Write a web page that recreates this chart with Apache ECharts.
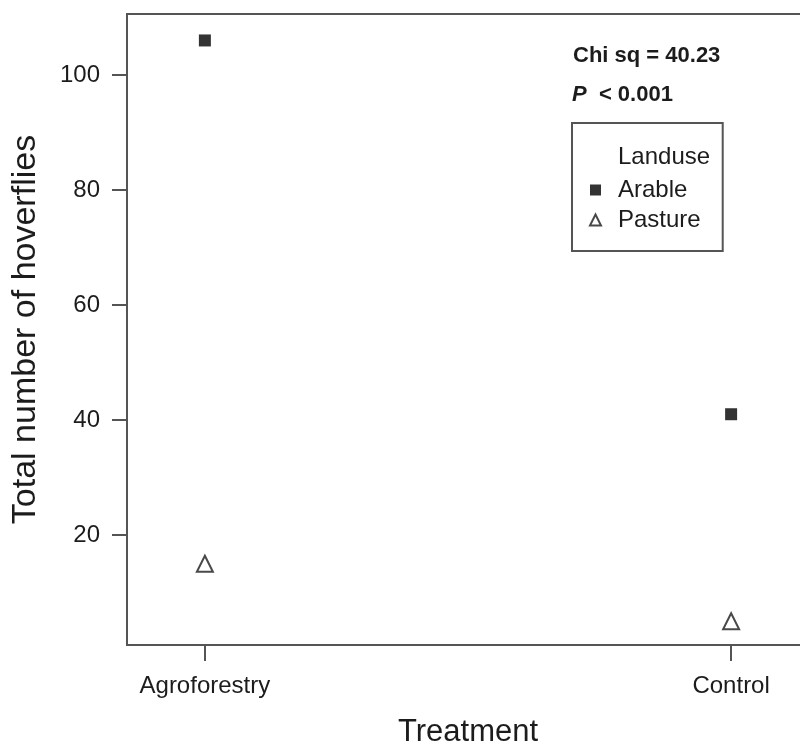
<!DOCTYPE html>
<html>
<head>
<meta charset="utf-8">
<script src="https://cdn.jsdelivr.net/npm/echarts@6/dist/echarts.min.js"></script>
<style>
  html, body { margin: 0; padding: 0; background: #fff; }
  #chart { width: 800px; height: 747px; }
</style>
</head>
<body>
<div id="chart"></div>
<script>
  // data
  const treatments = ['Agroforestry', 'Control'];
  const arable = [106, 41];
  const pasture = [15, 5];
  const yTicks = [20, 40, 60, 80, 100];
  const xTicks = [1, 2];

  const font = 'Liberation Sans, Arial, sans-serif';
  const ink = '#1c1c1c';
  const axisGray = '#555';

  const chart = echarts.init(document.getElementById('chart'));

  chart.setOption({
    animation: false,
    textStyle: { fontFamily: font },
    grid: {
      left: 127,
      top: 14,
      width: 682,
      height: 631,
      show: true,
      borderColor: axisGray,
      borderWidth: 2,
      containLabel: false,
      outerBoundsMode: 'none',
    },
    xAxis: {
      type: 'value',
      min: 0.852,
      max: 2.148,
      name: 'Treatment',
      nameLocation: 'middle',
      nameGap: 72,
      nameTextStyle: { fontSize: 31, color: ink, fontFamily: font },
      axisLine: { show: true, onZero: false, lineStyle: { color: axisGray, width: 2 } },
      axisTick: { show: true, customValues: xTicks, length: 16, lineStyle: { color: axisGray, width: 2 } },
      axisLabel: {
        customValues: xTicks,
        formatter: (v) => treatments[Math.round(v) - 1] || '',
        fontSize: 24,
        color: ink,
        margin: 29,
        fontFamily: font,
      },
      splitLine: { show: false },
    },
    yAxis: {
      type: 'value',
      min: 0.87,
      max: 110.6,
      name: 'Total number of hoverflies',
      nameLocation: 'middle',
      nameGap: 84,
      nameTextStyle: { fontSize: 34, color: ink, fontFamily: font },
      axisLine: { show: true, onZero: false, lineStyle: { color: axisGray, width: 2 } },
      axisTick: { show: true, customValues: yTicks, length: 15, lineStyle: { color: axisGray, width: 2 } },
      axisLabel: {
        customValues: yTicks,
        fontSize: 24,
        color: ink,
        margin: 27,
        padding: [5, 0, 0, 0],
        fontFamily: font,
      },
      splitLine: { show: false },
    },
    legend: {
      orient: 'vertical',
      left: 572,
      top: 123,
      padding: [55, 22, 19, 17],
      itemGap: 6,
      itemWidth: 11,
      itemHeight: 11,
      borderColor: axisGray,
      borderWidth: 2,
      borderRadius: 0,
      textStyle: { fontSize: 24, color: ink, fontFamily: font, padding: [0, 0, 0, 12] },
      data: ['Arable', 'Pasture'],
    },
    graphic: [
      {
        type: 'text',
        left: 618,
        top: 145,
        style: { text: 'Landuse', fontSize: 24, fill: ink, fontFamily: font },
      },
      {
        type: 'text',
        left: 573,
        top: 45,
        style: { text: 'Chi sq = 40.23', fontSize: 22, fontWeight: 'bold', fill: ink, fontFamily: font },
      },
      {
        type: 'text',
        left: 572,
        top: 84,
        style: {
          text: '{p|P}  < 0.001',
          fontSize: 22,
          fontWeight: 'bold',
          fill: ink,
          fontFamily: font,
          rich: { p: { fontStyle: 'italic', fontWeight: 'bold', fontSize: 22, fontFamily: font } },
        },
      },
    ],
    series: [
      {
        name: 'Arable',
        type: 'scatter',
        symbol: 'rect',
        symbolSize: 12,
        itemStyle: { color: '#000' },
        data: arable.map((v, i) => [i + 1, v]),
      },
      {
        name: 'Pasture',
        type: 'scatter',
        symbol: 'triangle',
        symbolSize: 16,
        itemStyle: { color: '#fff', borderColor: '#1c1c1c', borderWidth: 2 },
        data: pasture.map((v, i) => [i + 1, v]),
      },
    ],
  });
</script>
</body>
</html>
